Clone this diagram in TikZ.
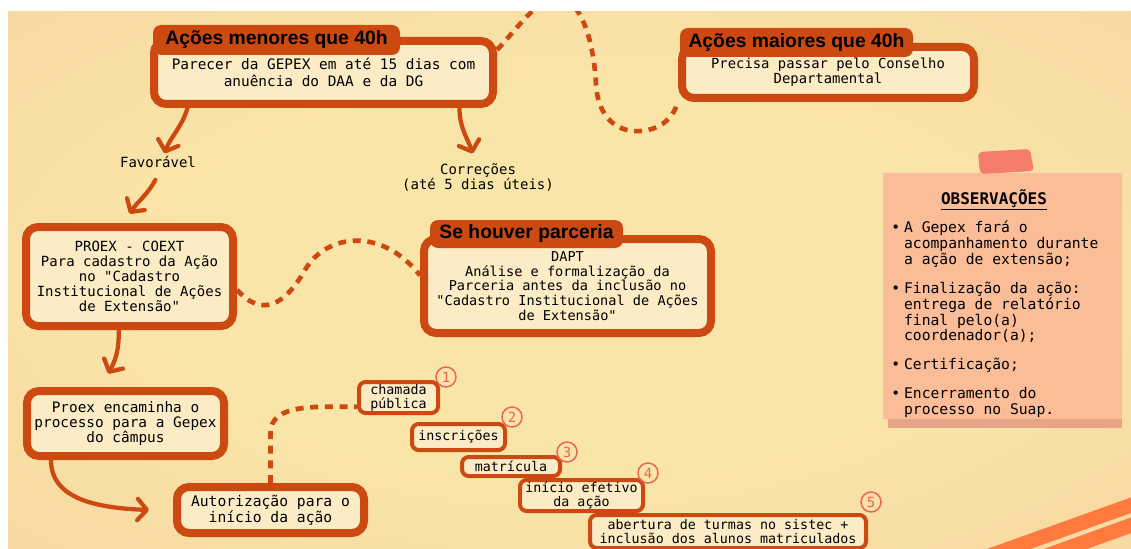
\documentclass[tikz,border=0pt]{standalone}
\usepackage{fontspec}
\setmainfont{DejaVu Sans Mono}[Ligatures=TeXOff]
\newfontfamily\headFont{Liberation Sans}
\usetikzlibrary{arrows.meta}
\definecolor{brickColor}{HTML}{CC4912}
\definecolor{creamColor}{HTML}{FCECC6}
\definecolor{bgInColor}{HTML}{FAE5A8}
\definecolor{bgOutColor}{HTML}{F3C59B}
\definecolor{noteColor}{HTML}{FBBC98}
\definecolor{shadowColor}{HTML}{E8A486}
\definecolor{tapeColor}{HTML}{F47E6B}
\definecolor{stripeColor}{HTML}{FF7A3C}
\definecolor{numColor}{HTML}{F0605A}
\pgfdeclareradialshading{bgShade}{\pgfpoint{0bp}{0bp}}{color(0bp)=(bgInColor); color(18bp)=(bgInColor); color(62bp)=(bgOutColor); color(72bp)=(bgOutColor)}
\tikzset{
  mainBox/.style={draw=brickColor, line width=6pt, fill=creamColor, rounded corners=9pt, align=center, inner sep=0pt},
  headTab/.style={fill=brickColor, rounded corners=6pt, inner sep=0pt, text=black, font=\headFont\bfseries\fontsize{14.5}{16}\selectfont},
  stepBox/.style={draw=brickColor, line width=3pt, fill=creamColor, rounded corners=5pt, align=center, inner sep=0pt, font=\fontsize{10}{10.5}\selectfont},
  stepNum/.style={circle, draw=numColor, line width=1.1pt, text=numColor, minimum size=15pt, inner sep=0pt, font=\fontsize{10.5}{10.5}\selectfont},
  flowArrow/.style={draw=brickColor, line width=3.2pt, line cap=round, -{Straight Barb[length=7pt,width=16pt,round]}},
  dashLink/.style={draw=brickColor, line width=3.5pt, dash pattern=on 6pt off 5pt},
  flowLabel/.style={inner sep=2pt, align=center, font=\fontsize{10.5}{11.25}\selectfont}
}
\begin{document}
\begin{tikzpicture}[x=0.75pt,y=-0.75pt]
\useasboundingbox (0,0) rectangle (1131,549);
\begin{scope}
\clip (8,12) rectangle (1131,549);
\shade[shading=bgShade] (8,12) rectangle (1131,549);
\draw[stripeColor, line width=11pt] (950,570) -- (1140,502);
\draw[stripeColor, line width=11pt] (1010,569) -- (1140,522);

\node[mainBox, minimum width=254.25pt, minimum height=47.25pt, font=\fontsize{10.8}{12.75}\selectfont] (menores) at (323.5,72.5) {Parecer da GEPEX em até 15 dias com\\anuência do DAA e da DG};
\node[headTab, minimum width=185.25pt, minimum height=22.5pt] (menoresTab) at (276.5,40) {Ações menores que 40h};

\node[mainBox, minimum width=219pt, minimum height=38.25pt, font=\fontsize{10.4}{11.25}\selectfont] (maiores) at (828,72.5) {Precisa passar pelo Conselho\\Departamental};
\node[headTab, minimum width=174.75pt, minimum height=21.75pt] (maioresTab) at (796.5,42.5) {Ações maiores que 40h};

\node[flowLabel] (fav) at (158,162) {Favorável};
\node[flowLabel] (corr) at (478,177) {Correções\\(até 5 dias úteis)};

\node[mainBox, minimum width=155.25pt, minimum height=74.25pt, font=\fontsize{10.5}{11.25}\selectfont] (proex) at (129.5,276.5) {PROEX - COEXT\\Para cadastro da Ação\\no "Cadastro\\Institucional de Ações\\de Extensão"};

\node[mainBox, minimum width=215.25pt, minimum height=70.5pt, font=\fontsize{10.2}{11}\selectfont] (parceria) at (567.5,286) {DAPT\\Análise e formalização da\\Parceria antes da inclusão no\\"Cadastro Institucional de Ações\\de Extensão"};
\node[headTab, minimum width=144.75pt, minimum height=21pt] (parceriaTab) at (526.5,234) {Se houver parceria};

\node[mainBox, minimum width=147.75pt, minimum height=48.75pt, font=\fontsize{10.8}{11.25}\selectfont] (encaminha) at (125.5,423.5) {Proex encaminha o\\processo para a Gepex\\do câmpus};
\node[mainBox, minimum width=140.25pt, minimum height=34.5pt, font=\fontsize{11}{10.8}\selectfont] (autoriz) at (270.5,510) {Autorização para o\\início da ação};

\node[stepBox, minimum width=59.25pt, minimum height=23.25pt] (chamada) at (398.5,397.5) {chamada\\pública};
\node[stepBox, minimum width=69.75pt, minimum height=19.5pt] (inscr) at (458.5,437) {inscrições};
\node[stepBox, minimum width=73.5pt, minimum height=14.25pt] (matric) at (511,466.5) {matrícula};
\node[stepBox, minimum width=92.25pt, minimum height=23.25pt] (inicio) at (581.5,495.5) {início efetivo\\da ação};
\node[stepBox, minimum width=207pt, minimum height=24.75pt] (abert) at (728,531.5) {abertura de turmas no sistec +\\inclusão dos alunos matriculados};

\node[stepNum] (num1) at (446,377) {1};
\node[stepNum] (num2) at (512,417) {2};
\node[stepNum] (num3) at (567,452) {3};
\node[stepNum] (num4) at (648,473) {4};
\node[stepNum] (num5) at (871,502) {5};

\draw[flowArrow] ([xshift=-102pt]menores.south) .. controls +(-5,18) and +(5,-15) .. ([xshift=5pt]fav.north);
\draw[flowArrow] ([xshift=102pt]menores.south) .. controls +(0,20) and +(-5,-15) .. ([xshift=-4pt,yshift=5pt]corr.north);
\draw[flowArrow] ([xshift=-2pt,yshift=-7pt]fav.south) .. controls +(-8,15) and +(8,-12) .. ([yshift=7pt]proex.north);
\draw[flowArrow] ([xshift=-8pt]proex.south) .. controls +(0,20) and +(8,-15) .. ([xshift=-13pt,yshift=10pt]encaminha.north);
\draw[flowArrow] ([xshift=21pt]encaminha.south west) .. controls +(0,40) and +(-50,-2) .. ([xshift=-18pt]autoriz.west);

\draw[dashLink] ([yshift=17pt]menores.east) .. controls (518,28) and (536,0) .. (556,-2) .. controls (580,-4) and (594,40) .. (596,85) .. controls (599,125) and (625,135) .. (648,130) .. controls (662,127) and (673,118) .. (maiores.south west);
\draw[dashLink] ([yshift=-10pt]proex.east) .. controls (262,318) and (285,305) .. (305,270) .. controls (325,235) and (380,225) .. ([yshift=8pt]parceria.west);
\draw[dashLink] (autoriz.north) -- ++(0,-50) .. controls +(0,-30) and +(-40,0) .. ([yshift=-7pt]chamada.west);

\fill[shadowColor] (888,178) rectangle (1122,428);
\fill[noteColor] (883,173) rectangle (1122,419);
\fill[tapeColor, rounded corners=3pt] (978,152) -- (1030,149) -- (1034,171) -- (980,174) -- cycle;
\node[font=\bfseries\fontsize{12}{12}\selectfont] (obsTitle) at (994,200) {\underline{OBSERVAÇÕES}};
\node[anchor=north west, inner sep=0pt, font=\fontsize{11}{11}\selectfont] (obsList) at (891,221) {%
\begin{tabular}{@{}l@{\hspace{3pt}}l@{}}
\textbullet & A Gepex fará o\\
 & acompanhamento durante\\
 & a ação de extensão;\\[10pt]
\textbullet & Finalização da ação:\\
 & entrega de relatório\\
 & final pelo(a)\\
 & coordenador(a);\\[10pt]
\textbullet & Certificação;\\[10pt]
\textbullet & Encerramento do\\
 & processo no Suap.
\end{tabular}};
\end{scope}
\end{tikzpicture}
\end{document}
